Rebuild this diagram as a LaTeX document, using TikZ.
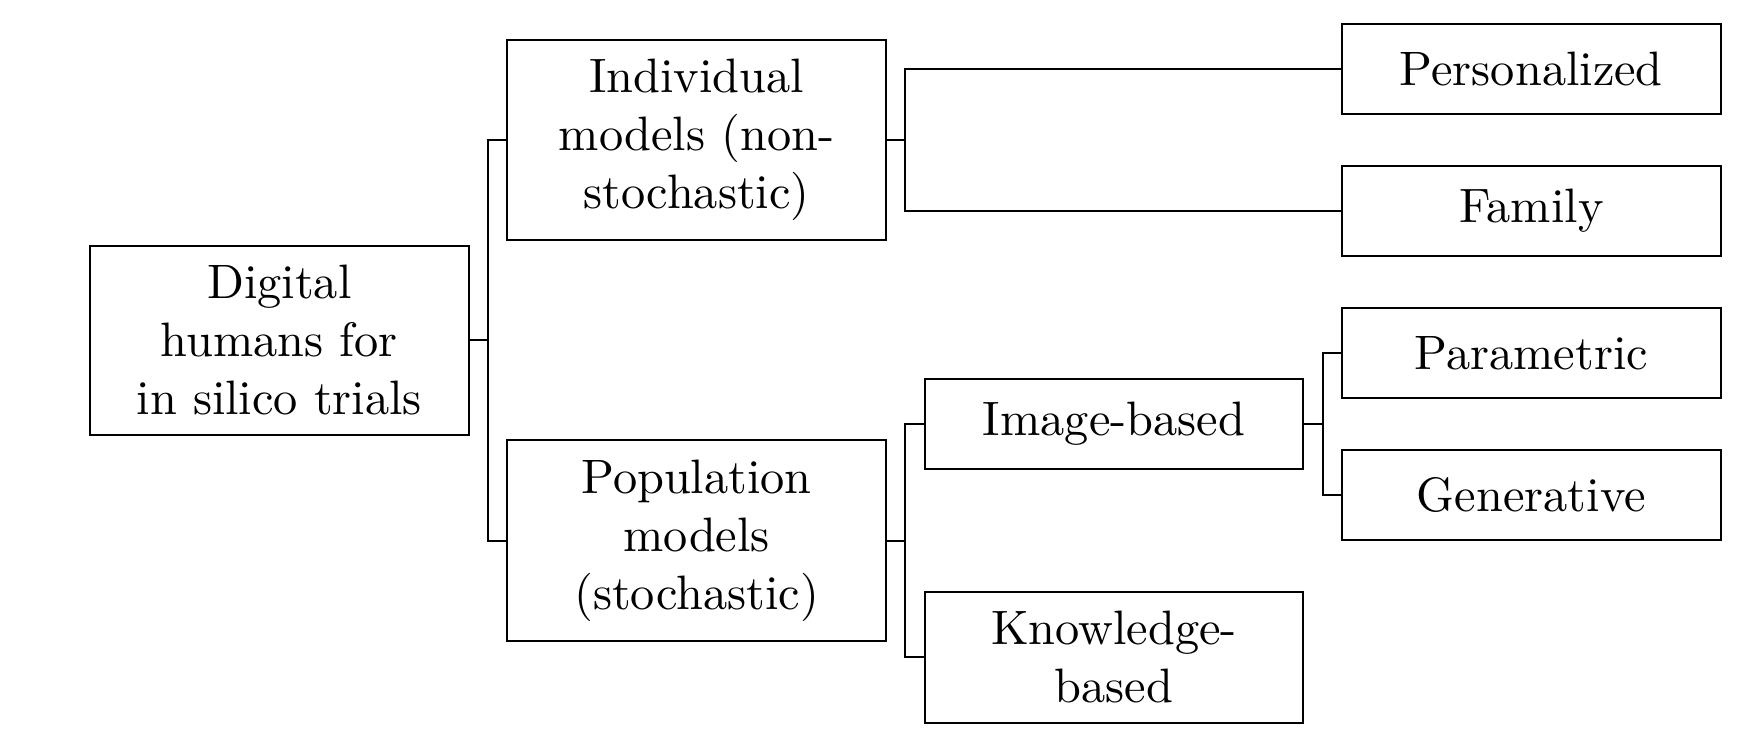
\documentclass[tikz,border=0pt]{standalone}
\usepackage{tikz}
\usetikzlibrary{positioning}
\tikzset{
    box/.style={draw, text width=70.4pt, align=center, inner sep=4pt, minimum height=18.6pt},
}
\begin{document}
\begin{tikzpicture}
    \def\dx{3.035}
    \def\gap{0.133}
    \useasboundingbox (0,0) rectangle (12.828,-5.396);
    % root
    \node[box] (root) at (2.031,-2.475) {Digital\\humans for\\in silico trials};
    % model types
    \node[box] (indiv) at (2.031+\dx,-1.018) {Individual\\models (non-\\stochastic)};
    \node[box] (popul) at (2.031+\dx,-3.931) {Population\\models\\(stochastic)};
    % population kinds
    \node[box] (imgb) at (2.031+2*\dx,-3.081) {Image-based};
    \node[box] (knowb) at (2.031+2*\dx,-4.780) {Knowledge-\\based};
    % leaves
    \foreach \n/\y/\t in {pers/-0.502/Personalized, fam/-1.534/Family, param/-2.567/Parametric, gener/-3.600/Generative} {
        \node[box] (\n) at (2.031+3*\dx,\y) {\t};
    }
    % forks
    \foreach \p/\c in {root/indiv, root/popul, indiv/pers, indiv/fam, popul/imgb, popul/knowb, imgb/param, imgb/gener} {
        \draw (\p.east) -- ++(\gap,0) |- (\c.west);
    }
\end{tikzpicture}
\end{document}
